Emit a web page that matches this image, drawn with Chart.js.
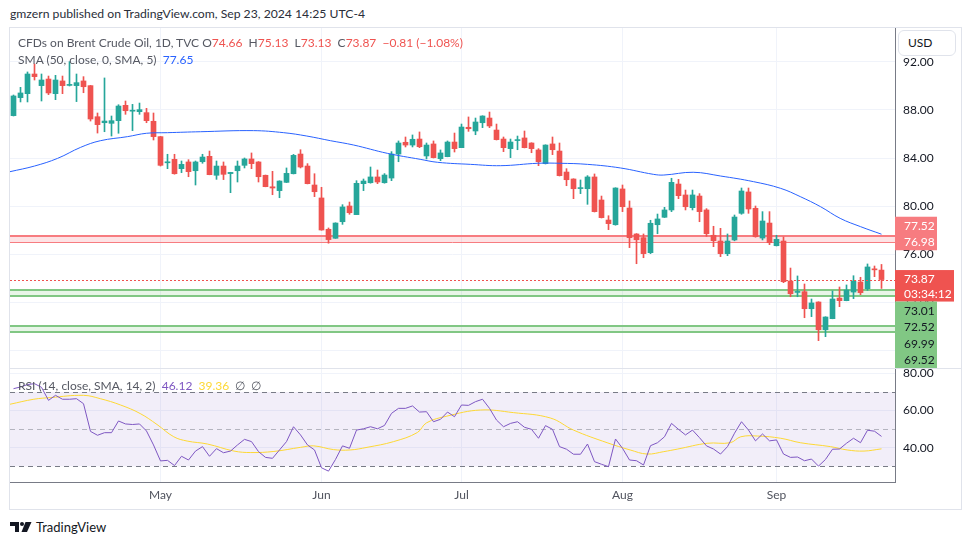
<!DOCTYPE html>
<html>
<head>
<meta charset="utf-8">
<title>Brent Crude Oil 1D</title>
<script src="https://cdn.jsdelivr.net/npm/chart.js@4.4.1/dist/chart.umd.min.js"></script>
<style>
  body { margin: 0; width: 970px; height: 545px; background: #fff; position: relative; overflow: hidden;
         font-family: Lato, "Noto Sans", sans-serif; color: #131722; }
  .abs { position: absolute; white-space: nowrap; line-height: 16px; }
  #frame { position: absolute; left: 9px; top: 27px; width: 951px; height: 481px; border: 1px solid #e0e3eb; }
  #mainWrap { position: absolute; left: 10px; top: 28px; width: 951px; height: 341px; }
  #rsiWrap { position: absolute; left: 10px; top: 369px; width: 951px; height: 140px; }
  #sep { position: absolute; left: 10px; top: 368px; width: 951px; height: 1px; background: #e0e3eb; }
  .leg { font-size: 12px; color: #555862; }
  .red { color: #ef5350; }
  #usd { position: absolute; left: 898px; top: 30px; width: 47px; height: 24px; border: 1px solid #e0e3eb;
         border-radius: 6px; background: #fff; font-size: 12px; line-height: 24px; padding-left: 9px; }
</style>
</head>
<body>
<div id="frame"></div>
<div id="mainWrap"><canvas id="mainChart" width="951" height="341"></canvas></div>
<div id="rsiWrap"><canvas id="rsiChart" width="951" height="140"></canvas></div>
<div id="sep"></div>

<div class="abs" style="left:10px;top:6px;font-size:12.2px;color:#2a2e39">gmzern published on TradingView.com, Sep 23, 2024 14:25 UTC-4</div>
<div class="abs leg" style="left:18px;top:35px">CFDs on Brent Crude Oil, 1D, TVC O<span class="red">74.66</span>&nbsp;&nbsp;H<span class="red">75.13</span>&nbsp;&nbsp;L<span class="red">73.13</span>&nbsp;&nbsp;C<span class="red">73.87</span>&nbsp;&nbsp;<span class="red">−0.81 (−1.08%)</span></div>
<div class="abs leg" style="left:18px;top:52px">SMA (50, close, 0, SMA, 5)&nbsp;&nbsp;<span style="color:#2962ff">77.65</span></div>
<div class="abs leg" style="left:18px;top:378px">RSI (14, close, SMA, 14, 2)&nbsp;&nbsp;<span style="color:#7e57c2">46.12</span>&nbsp;&nbsp;<span style="color:#fdd835">39.36</span>&nbsp;&nbsp;∅&nbsp;&nbsp;∅</div>
<div id="usd">USD</div>

<svg width="22" height="10" viewBox="0 0 22 10" style="position:absolute;left:10px;top:522px">
  <path d="M0 0H9V10H5V4H0Z" fill="#131722"/>
  <circle cx="12" cy="2" r="2" fill="#131722"/>
  <path d="M15.5 0H21.5L17 10H11.5Z" fill="#131722"/>
</svg>
<div class="abs" style="left:36px;top:519px;font-size:13px;color:#131722">TradingView</div>

<script>
// daily bars, Apr 2 2024 -> Sep 23 2024 (index 0..124)
const opens = [87.53,89.03,89.36,91.0,90.03,90.58,89.36,90.42,90.05,90.03,90.42,90.03,87.44,86.94,86.89,87.11,88.39,87.9,87.86,87.78,
  87.06,85.78,83.6,83.89,83.11,83.67,82.94,83.69,84.14,82.56,83.33,82.7,82.94,83.39,83.92,83.67,82.56,81.6,81.28,81.97,
  82.69,84.33,83.33,81.75,80.67,78.06,77.31,78.69,80.0,79.28,81.86,81.94,82.42,81.94,82.33,84.33,85.31,85.08,85.58,84.17,
  85.17,83.94,84.11,85.33,84.86,86.56,86.25,86.94,87.33,86.33,85.58,84.78,85.45,85.67,85.25,84.67,83.53,85.17,84.58,82.83,
  82.25,81.45,81.44,82.42,80.5,78.83,78.44,81.42,79.83,77.67,77.36,76.11,78.44,79.06,79.67,81.83,80.92,79.86,80.83,79.67,
  77.56,77.08,76.03,77.17,79.39,81.17,79.81,77.33,78.58,76.69,77.08,73.75,72.8,72.86,71.44,72.0,69.69,70.61,72.33,72.11,
  72.83,73.67,73.11,74.75,74.66];
const highs = [89.25,89.89,91.17,91.83,91.0,90.83,90.89,90.83,92.03,91.0,90.78,90.05,87.75,90.67,87.5,88.44,88.75,88.47,88.58,88.14,
  87.75,85.8,84.31,84.31,83.75,83.86,83.75,84.31,84.58,83.75,83.67,82.81,83.75,84.0,84.42,83.7,82.58,82.89,82.1,83.17,
  84.3,84.69,83.53,82.69,81.56,78.17,78.6,80.11,80.33,82.11,82.25,83.25,83.0,82.7,84.53,85.42,85.75,85.92,86.17,85.25,
  85.42,84.67,85.42,86.08,86.83,87.42,87.33,87.52,87.83,86.83,85.75,85.58,85.83,86.25,85.27,84.78,85.1,85.75,85.25,83.11,
  82.27,82.17,82.53,82.67,80.83,79.19,81.52,81.75,80.42,77.7,77.67,78.81,79.33,79.89,82.31,82.22,81.33,81.33,81.03,79.78,
  78.31,78.14,77.67,79.25,81.5,81.5,80.0,79.53,79.53,77.56,77.42,74.83,74.17,73.5,72.25,72.02,70.77,72.92,73.25,73.42,
  74.19,74.06,75.17,75.0,75.13];
const lows = [87.5,88.67,88.67,90.5,88.75,89.28,88.86,89.36,90.0,88.7,89.44,87.08,86.08,86.19,85.83,86.06,87.64,86.28,87.64,86.94,
  85.5,83.33,83.11,82.65,82.78,82.44,81.75,83.56,82.6,82.22,82.2,81.11,82.0,83.17,83.11,82.0,81.6,80.94,80.69,81.95,
  82.67,83.17,81.84,80.78,77.98,76.9,77.3,78.47,79.31,79.28,81.28,81.9,81.86,81.9,82.11,83.69,84.92,84.92,84.86,83.92,
  84.0,83.78,84.1,84.5,84.86,86.22,85.94,86.53,86.53,85.5,84.53,84.03,84.69,84.84,84.44,83.36,83.5,84.28,82.5,81.69,
  80.61,81.03,80.14,79.5,79.0,78.03,78.4,79.53,76.53,75.19,75.69,76.03,77.69,79.04,79.53,80.61,79.67,79.67,78.69,77.47,
  76.61,75.78,75.86,77.1,79.31,79.39,77.4,77.17,76.78,76.67,73.61,72.44,72.44,70.69,70.78,68.78,69.11,70.6,71.61,72.1,
  72.28,72.61,72.97,74.11,73.13];
const closes = [89.17,89.42,91.0,90.78,90.5,89.42,90.5,90.03,90.1,90.28,89.94,87.25,86.78,87.08,87.11,88.33,87.94,87.95,88.03,87.11,
  85.78,83.39,83.67,82.69,83.47,82.86,83.67,84.08,82.61,83.33,82.64,82.8,83.33,83.92,83.53,82.44,81.61,81.5,82.08,82.72,
  84.22,83.25,81.86,81.19,78.0,77.2,78.58,79.92,79.44,81.89,82.08,82.42,82.0,82.58,84.33,85.25,85.08,85.56,84.94,85.08,
  84.03,84.42,85.33,84.78,86.58,86.44,87.0,87.5,86.67,85.53,84.86,85.33,85.5,84.86,84.78,83.69,85.08,84.69,82.53,82.19,
  81.44,81.5,82.42,79.53,79.03,78.53,81.5,79.94,77.36,77.19,76.03,78.56,78.92,79.67,81.97,80.86,79.94,80.92,79.53,77.69,
  77.11,76.03,77.08,79.08,81.25,79.75,77.44,78.75,76.94,77.22,73.69,72.69,72.85,71.44,71.92,69.69,70.75,72.25,72.11,73.0,
  73.75,72.78,74.92,74.68,73.87];

// SMA 50: [bar index, value]
const sma50 = [[-0.5,82.86],[3,83.33],[6.3,83.97],[9.6,84.89],[12.4,85.44],[16.3,85.78],[19,86.06],[22,86.11],[26.7,86.19],
  [34.3,86.28],[38.6,86.11],[41.9,85.83],[45.3,85.44],[48.6,85.08],[53.4,84.39],[58.1,83.89],[60.6,83.64],[65.3,83.47],
  [69.6,83.36],[74.9,83.56],[78.1,83.56],[82,83.47],[86.7,83.17],[91.4,82.64],[92.9,82.58],[97.1,82.81],[101,82.5],
  [105.7,82.03],[109.6,81.47],[112.4,80.78],[115.3,79.94],[118.1,78.97],[121,78.28],[124,77.65]];

const rsi = [71.8,72.7,74.0,74.5,72.5,65.5,68.2,66.1,66.1,66.4,63.7,48.8,46.7,48.1,48.1,54.4,52.8,52.5,52.8,49.0,
  41.5,32.9,33.2,30.4,35.4,33.4,38.2,40.6,35.4,39.5,37.3,38.2,41.5,44.5,43.3,37.9,34.8,34.3,38.8,43.3,
  51.3,46.9,41.5,38.8,29.2,27.4,33.7,41.0,39.7,49.5,50.2,51.3,50.2,52.0,58.5,61.2,61.2,62.5,59.2,59.4,
  54.0,55.3,59.2,56.7,63.0,62.8,64.8,66.1,61.2,54.9,51.3,53.1,54.0,51.0,49.9,45.1,51.9,49.9,40.6,39.2,
  36.5,36.5,42.0,32.5,31.1,29.8,44.7,39.7,33.4,33.0,30.7,41.1,42.7,45.9,53.1,49.9,46.9,49.5,45.4,41.0,
  39.3,36.6,40.6,47.8,54.0,49.5,43.7,47.4,43.7,44.2,36.6,34.8,35.0,33.0,33.9,30.1,33.7,39.2,39.3,42.4,
  45.1,42.7,49.4,48.9,46.1];
// RSI moving average: [bar index, value]
const rsiMa = [[-0.5,63.4],[2.9,66.1],[5.3,67.0],[10,68.2],[12.4,66.4],[15.3,63.0],[18.1,58.4],[20.5,52.5],[22.9,45.9],
  [24.8,43.6],[27.7,42.0],[31.5,38.2],[33.9,37.4],[37.2,38.0],[41,40.2],[42.9,41.0],[45.7,39.0],[48.1,38.8],[50.5,40.2],
  [54.3,43.3],[57.7,48.2],[59.0,53.4],[61.9,57.0],[66.7,60.3],[71.4,58.9],[76.7,56.0],[80,49.5],[84.8,42.7],[88.1,38.8],
  [90.5,36.6],[92.9,37.9],[94.9,39.3],[99.1,42.4],[102.4,42.7],[103.9,45.9],[106.3,46.3],[109.6,45.1],[112.4,42.7],
  [116.7,40.6],[119.1,38.8],[121.5,38.2],[124,39.4]];

const monthTicks = [21, 44, 64, 87, 109];
const monthLabels = ["May", "Jun", "Jul", "Aug", "Sep"];
const priceTicks = [68, 72, 76, 80, 84, 88, 92];
const rsiTicks = [40, 60, 80];

const redZone = [77.52, 76.98];
const greenZones = [[73.01, 72.52], [69.99, 69.52]];
const countdown = "03:34:12";

const UP = "#26a69a";
const DOWN = "#ef5350";
const GRID = "#f0f3fa";
const AXIS = "#787b86";
const FONT = "Lato, 'Noto Sans', sans-serif";
const X_MIN = -0.5;
const X_MAX = -0.5 + 885 / 7;

const barColors = closes.map((c, i) => (c >= opens[i] ? UP : DOWN));
const bodies = opens.map((o, i) => ({ x: i, y: [o, closes[i]] }));
const wicks = lows.map((l, i) => ({ x: i, y: [l, highs[i]] }));

const setTicks = (values) => (scale) => {
  scale.ticks = values.map((v) => ({ value: v }));
};

// keep the plot area flush with the canvas edges
const noPadding = (scale) => {
  scale.paddingTop = 0;
  scale.paddingBottom = 0;
  scale.paddingLeft = 0;
  scale.paddingRight = 0;
};

const hLine = (ctx, area, y, color, width, dash) => {
  ctx.save();
  ctx.strokeStyle = color;
  ctx.lineWidth = width;
  ctx.setLineDash(dash || []);
  ctx.beginPath();
  const yy = width % 2 ? Math.round(y) + 0.5 : Math.round(y);
  ctx.moveTo(area.left, yy);
  ctx.lineTo(area.right, yy);
  ctx.stroke();
  ctx.restore();
};

const zonesPlugin = {
  id: "zones",
  beforeDatasetsDraw(chart) {
    const { ctx, chartArea: a, scales } = chart;
    const y = scales.y;
    const drawZone = (top, bottom, fill, line, topW, botW) => {
      const y1 = y.getPixelForValue(top);
      const y2 = y.getPixelForValue(bottom);
      ctx.fillStyle = fill;
      ctx.fillRect(a.left, y1, a.right - a.left, y2 - y1);
      hLine(ctx, a, y1, line, topW);
      hLine(ctx, a, y2, line, botW);
    };
    drawZone(redZone[0], redZone[1], "rgba(242,54,69,0.14)", "#f77c80", 2, 1);
    greenZones.forEach((z) => drawZone(z[0], z[1], "rgba(76,175,80,0.13)", "#81c784", 2, 2));
  },
  afterDraw(chart) {
    const { ctx, chartArea: a, scales } = chart;
    const y = scales.y;
    const last = closes[closes.length - 1];
    const yLast = y.getPixelForValue(last);
    hLine(ctx, a, yLast, DOWN, 1, [2, 2]);

    const x0 = a.right;
    ctx.save();
    ctx.font = "12px " + FONT;
    ctx.textBaseline = "middle";
    ctx.textAlign = "left";

    // red zone labels
    const yz = y.getPixelForValue(redZone[1]);
    ctx.fillStyle = "#f77c80";
    ctx.fillRect(x0, yz - 25.5, 42, 33.5);
    ctx.fillStyle = "#fff";
    ctx.fillText(redZone[0].toFixed(2), x0 + 9, yz - 16);
    ctx.fillText(redZone[1].toFixed(2), x0 + 9, yz);

    // last price + countdown
    ctx.fillStyle = DOWN;
    ctx.fillRect(x0, yLast - 9.5, 59, 31.5);
    ctx.fillStyle = "#fff";
    ctx.fillText(last.toFixed(2), x0 + 9, yLast);
    ctx.fillText(countdown, x0 + 9, yLast + 15);

    // green zone labels
    const gTop = yLast + 22;
    const gVals = [greenZones[0][0], greenZones[0][1], greenZones[1][0], greenZones[1][1]];
    ctx.fillStyle = "#81c784";
    ctx.fillRect(x0, gTop, 42, 67);
    ctx.fillStyle = "#131722";
    gVals.forEach((v, k) => ctx.fillText(v.toFixed(2), x0 + 9, gTop + 9.5 + k * 16.5));
    ctx.restore();
  },
};

const rsiBandPlugin = {
  id: "rsiBand",
  beforeDatasetsDraw(chart) {
    const { ctx, chartArea: a, scales } = chart;
    const y70 = scales.y.getPixelForValue(70);
    const y30 = scales.y.getPixelForValue(30);
    ctx.fillStyle = "rgba(126,87,194,0.1)";
    ctx.fillRect(a.left, y70, a.right - a.left, y30 - y70);
    hLine(ctx, a, y70, AXIS, 1, [5, 4]);
    hLine(ctx, a, y30, AXIS, 1, [5, 4]);
    hLine(ctx, a, scales.y.getPixelForValue(50), "rgba(120,123,134,0.5)", 1, [5, 4]);
  },
};

const xScale = (showLabels) => ({
  type: "linear",
  min: X_MIN,
  max: X_MAX,
  offset: false,
  grid: { color: GRID, drawTicks: false, offset: false },
  border: { display: showLabels, color: AXIS },
  ticks: {
    display: showLabels,
    padding: 6,
    autoSkip: false,
    maxRotation: 0,
    color: "#50535e",
    font: { family: FONT, size: 12 },
    callback: (v) => monthLabels[monthTicks.indexOf(v)],
  },
  afterBuildTicks: setTicks(monthTicks),
  afterFit: (s) => {
    noPadding(s);
    s.height = showLabels ? 27 : 0;
  },
});

const yScale = (min, max, values) => ({
  position: "right",
  min,
  max,
  grid: { color: GRID, drawTicks: false },
  border: { color: AXIS },
  ticks: {
    padding: 8,
    color: "#131722",
    font: { family: FONT, size: 12 },
    callback: (v) => v.toFixed(2),
  },
  afterBuildTicks: setTicks(values),
  afterFit: (s) => {
    noPadding(s);
    s.width = 66;
  },
});

const commonOptions = {
  responsive: false,
  animation: false,
  events: [],
  layout: { padding: 0 },
  plugins: { legend: { display: false }, tooltip: { enabled: false } },
};

new Chart(document.getElementById("mainChart"), {
  type: "bar",
  data: {
    datasets: [
      {
        type: "line",
        data: sma50.map((p) => ({ x: p[0], y: p[1] })),
        borderColor: "#2962ff",
        borderWidth: 1,
        pointRadius: 0,
        tension: 0.4,
        fill: false,
        order: 0,
      },
      { data: bodies, backgroundColor: barColors, barThickness: 5, minBarLength: 1, grouped: false, order: 1 },
      { data: wicks, backgroundColor: barColors, barThickness: 1, grouped: false, order: 2 },
    ],
  },
  options: {
    ...commonOptions,
    scales: {
      x: xScale(false),
      y: yScale(92 - 307 / 12, 92 + 34 / 12, priceTicks),
    },
  },
  plugins: [zonesPlugin],
});

new Chart(document.getElementById("rsiChart"), {
  type: "line",
  data: {
    datasets: [
      {
        data: rsi.map((v, i) => ({ x: i, y: v })),
        borderColor: "#7e57c2",
        borderWidth: 1,
        pointRadius: 0,
        tension: 0,
      },
      {
        data: rsiMa.map((p) => ({ x: p[0], y: p[1] })),
        borderColor: "#fdd835",
        borderWidth: 1,
        pointRadius: 0,
        tension: 0.4,
      },
    ],
  },
  options: {
    ...commonOptions,
    scales: {
      x: xScale(true),
      y: yScale(70 - 90 / 1.8575, 70 + 23 / 1.8575, rsiTicks),
    },
  },
  plugins: [rsiBandPlugin],
});
</script>
</body>
</html>
